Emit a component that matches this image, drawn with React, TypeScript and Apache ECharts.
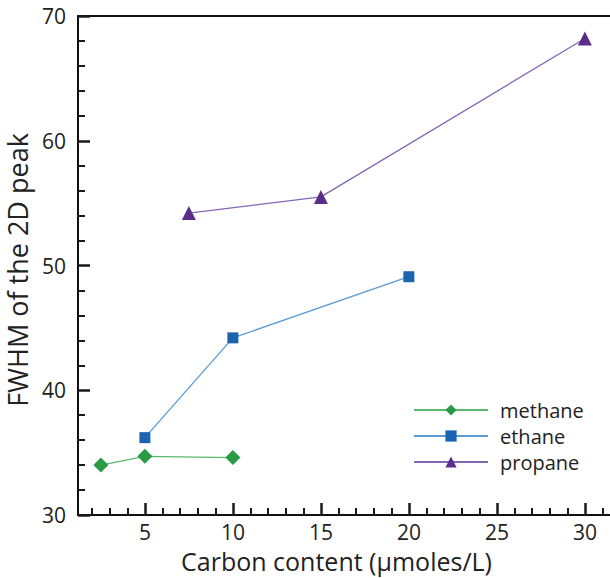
import React, { useEffect, useRef } from "react";
import * as echarts from "echarts";

const methaneX = [2.5, 5, 10];
const methaneY = [34.0, 34.7, 34.6];
const ethaneX = [5, 10, 20];
const ethaneY = [36.2, 44.2, 49.1];
const propaneX = [7.5, 15, 30];
const propaneY = [54.2, 55.5, 68.2];
const xLabelValues = [5, 10, 15, 20, 25, 30];
const xMinorTickValues = [2, 3, 4, 6, 7, 8, 9, 11, 12, 13, 14, 16, 17, 18, 19, 21, 22, 23, 24, 26, 27, 28, 29, 31];

const FONT = "Open Sans";

export default function App() {
  const ref = useRef<HTMLDivElement>(null);
  useEffect(() => {
    if (!ref.current) return;
    const chart = echarts.init(ref.current, null, { renderer: "svg" });
    const pair = (xs: number[], ys: number[]) => xs.map((x, i) => [x, ys[i]]);
    const xMin = 1.2;
    const xMax = 31.6;
    const yMin = 30;
    const yMax = 70;
    chart.setOption({
      animation: false,
      backgroundColor: "#fff",
      grid: {
        left: 78,
        top: 16,
        height: 499,
        width: (xMax - xMin) * 17.6,
        outerBoundsMode: "none",
        containLabel: false,
      },
      legend: {
        orient: "vertical",
        left: 413,
        top: 400,
        padding: 0,
        itemWidth: 74,
        itemHeight: 14,
        itemGap: 6,
        textStyle: { fontFamily: FONT, fontSize: 20, color: "#222", padding: [0, 0, 0, 7] },
        data: ["methane", "ethane", "propane"],
      },
      xAxis: [
        {
          type: "value",
          min: xMin,
          max: xMax,
          position: "bottom",
          name: "Carbon content (µmoles/L)",
          nameLocation: "middle",
          nameGap: 33,
          nameTextStyle: { fontFamily: FONT, fontSize: 25, lineHeight: 25, color: "#222", padding: [0, 18, 0, 0] },
          axisLine: { show: true, lineStyle: { color: "#111", width: 2 } },
          axisTick: { show: true, inside: true, length: 12, customValues: xLabelValues, lineStyle: { color: "#1a1a1a", width: 2.5 } },
          axisLabel: { customValues: xLabelValues, fontFamily: FONT, fontSize: 21, lineHeight: 21, color: "#222", margin: 6 },
          splitLine: { show: false },
        },
        {
          type: "value",
          min: xMin,
          max: xMax,
          position: "bottom",
          axisLine: { show: false },
          axisTick: { show: true, inside: true, length: 7, customValues: xMinorTickValues, lineStyle: { color: "#1a1a1a", width: 2 } },
          axisLabel: { show: false },
          splitLine: { show: false },
        },
        {
          type: "value",
          min: xMin,
          max: xMax,
          position: "top",
          axisLine: { show: true, lineStyle: { color: "#111", width: 2 } },
          axisTick: { show: false },
          axisLabel: { show: false },
          splitLine: { show: false },
        },
      ],
      yAxis: {
        type: "value",
        min: yMin,
        max: yMax,
        interval: 10,
        name: "FWHM of the 2D peak",
        nameLocation: "middle",
        nameGap: 42,
        nameTextStyle: { fontFamily: FONT, fontSize: 27, lineHeight: 27, color: "#222", padding: [0, 9, 0, 0] },
        axisLine: { show: true, lineStyle: { color: "#111", width: 2 } },
        axisTick: { show: true, inside: true, length: 12, lineStyle: { color: "#1a1a1a", width: 2.5 } },
        minorTick: { show: true, splitNumber: 5, length: 7, lineStyle: { color: "#1a1a1a", width: 2 } },
        axisLabel: { fontFamily: FONT, fontSize: 21, color: "#222", margin: 12 },
        splitLine: { show: false },
      },
      series: [
        {
          name: "methane",
          type: "line",
          data: pair(methaneX, methaneY),
          symbol: "diamond",
          symbolSize: 15,
          lineStyle: { color: "#5cb86e", width: 1.3 },
          itemStyle: { color: "#2a9a45" },
        },
        {
          name: "ethane",
          type: "line",
          data: pair(ethaneX, ethaneY),
          symbol: "rect",
          symbolSize: 11,
          lineStyle: { color: "#5b9bd5", width: 1.3 },
          itemStyle: { color: "#1a64b0" },
        },
        {
          name: "propane",
          type: "line",
          data: pair(propaneX, propaneY),
          symbol: "triangle",
          symbolSize: 14,
          lineStyle: { color: "#8466b5", width: 1.3 },
          itemStyle: { color: "#5a2d8a" },
        },
      ],
    });
    return () => chart.dispose();
  }, []);
  return (
    <div
      ref={ref}
      style={{ position: "fixed", left: 0, top: 0, width: 610, height: 578 }}
    />
  );
}
